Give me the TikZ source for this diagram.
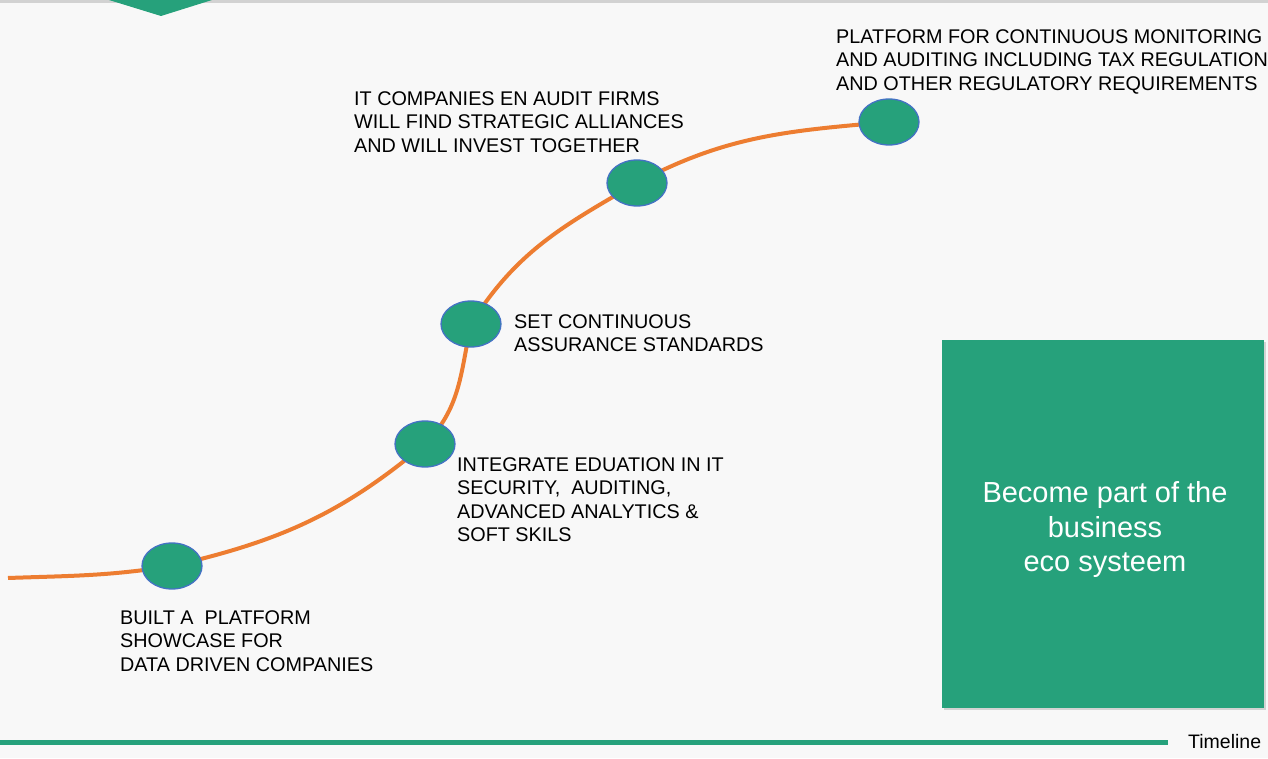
\documentclass[tikz,border=0pt]{standalone}
\usepackage{fontspec}
\setmainfont{Liberation Sans}
\usetikzlibrary{shapes.geometric,shadows,backgrounds}
\definecolor{ecogreen}{HTML}{26A17B}
\definecolor{ecoorange}{HTML}{ED7D31}
\definecolor{ecoblue}{HTML}{4472C4}
\definecolor{ecobg}{HTML}{F8F8F8}
\tikzset{
  milestone/.style={shape=ellipse,draw=ecoblue,line width=1.3pt,fill=ecogreen,minimum width=60pt,minimum height=46pt,inner sep=0pt},
  label/.style={anchor=north west,align=left,inner sep=0pt,font=\fontsize{19.8}{23.5}\selectfont},
  trend/.style={draw=ecoorange,line width=4pt},
}
\begin{document}
\begin{tikzpicture}[x=1pt,y=1pt]
        \useasboundingbox (0,0) rectangle (1268,758);
        \coordinate (S) at (8,180);
        \node[milestone] (A) at (172,192) {};
        \node[milestone] (B) at (425,314) {};
        \node[milestone] (C) at (471,434) {};
        \node[milestone] (D) at (637,575) {};
        \node[milestone] (E) at (889,636) {};
        \begin{scope}[on background layer]
        \fill[ecobg] (0,0) rectangle (1268,758);
        \fill[gray!35] (0,755) rectangle (1268,758);
        \fill[ecogreen] (109,758) -- (212,758) -- (161,742) -- cycle;
        \path [trend](S) to[out=2,in=189] (A.center);
        \path [trend](A.center) to[out=13,in=220] (B.center);
        \path [trend](B.center) to[out=45,in=258] (C.center);
        \path [trend](C.center) to[out=58,in=210] (D.center);
        \path [trend](D.center) to[out=28,in=185] (E.center);
        \end{scope}
        \node[label] (tA) at (120,148) {BUILT A\ \ PLATFORM\\SHOWCASE FOR\\DATA DRIVEN COMPANIES};
        \node[label] (tB) at (457,301) {INTEGRATE EDUATION IN IT\\SECURITY,\ \ AUDITING,\\ADVANCED ANALYTICS \&\\SOFT SKILS};
        \node[label] (tC) at (514,444) {SET CONTINUOUS\\ASSURANCE STANDARDS};
        \node[label] (tD) at (354,667) {IT COMPANIES EN AUDIT FIRMS\\WILL FIND STRATEGIC ALLIANCES\\AND WILL INVEST TOGETHER};
        \node[label] (tE) at (836,729) {PLATFORM FOR CONTINUOUS MONITORING\\AND AUDITING INCLUDING TAX REGULATION\\AND OTHER REGULATORY REQUIREMENTS};
        \node[fill=ecogreen,minimum width=322pt,minimum height=368pt,drop shadow={opacity=0.3,shadow xshift=1.5pt,shadow yshift=-2pt}] (box) at (1103,234) {};
        \node[text=white,align=center,font=\fontsize{29}{34.5}\selectfont] (goal) at (1105,228) {Become part of the\\business\\eco systeem};
        \coordinate (T0) at (0,16);
        \node[anchor=west,inner sep=0pt,font=\fontsize{19.5}{23.5}\selectfont] (time) at (1188,16) {Timeline};
        \draw[ecogreen,line width=5pt,drop shadow={opacity=0.25,shadow xshift=1pt,shadow yshift=-1.5pt}] (T0) -- (1168,16);
    \end{tikzpicture}
\end{document}
